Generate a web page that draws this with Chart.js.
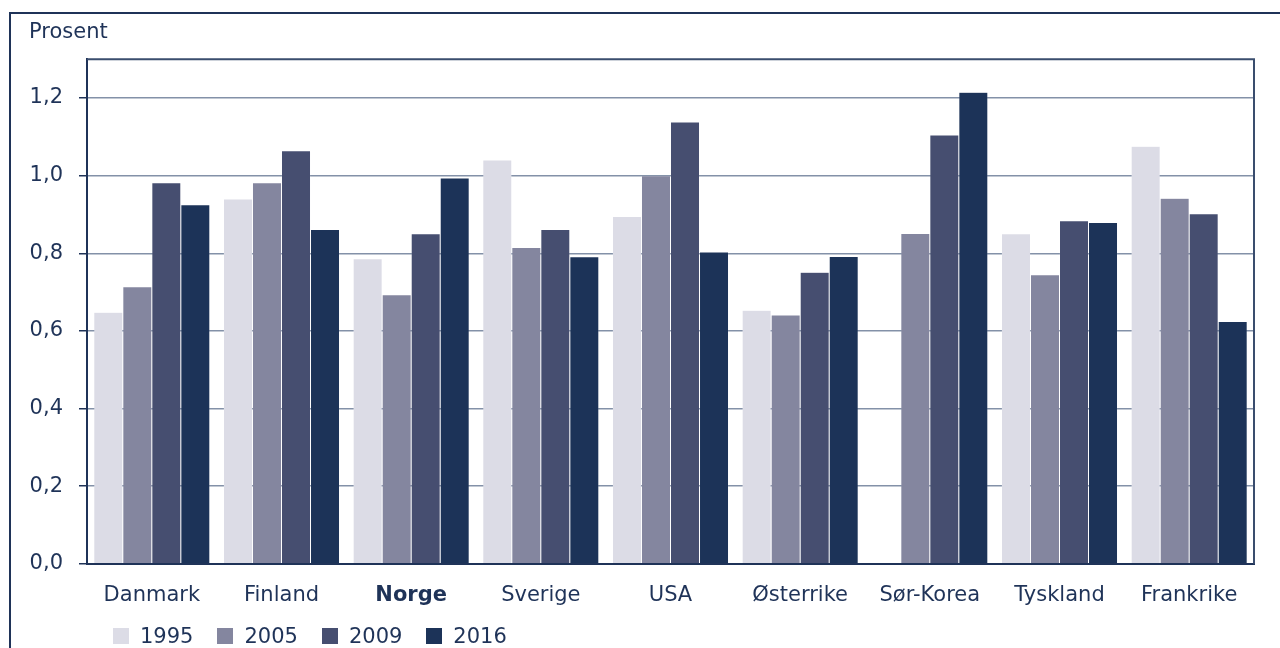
<!DOCTYPE html>
<html>
<head>
<meta charset="utf-8">
<script src="https://cdn.jsdelivr.net/npm/chart.js@4/dist/chart.umd.min.js"></script>
<style>
  html, body { margin: 0; padding: 0; background: #fff; }
  #wrap { position: relative; width: 1280px; height: 648px; overflow: hidden; }
  #frame { position: absolute; left: 9px; top: 12px; right: -10px; bottom: -10px;
           border-left: 2px solid #1f3358; border-top: 2px solid #1f3358; }
  canvas { position: absolute; left: 0; top: 0; }
  #legend { position: absolute; left: 113px; top: 624px; display: flex;
            font-family: "DejaVu Sans", Verdana, sans-serif; font-size: 21px; color: #1f3358; }
  #legend .item { display: flex; align-items: center; margin-right: 24px; }
  #legend .box { width: 16px; height: 16px; margin-right: 11px; }
</style>
</head>
<body>
<div id="wrap">
  <div id="frame"></div>
  <canvas id="c" width="1280" height="648"></canvas>
  <div id="legend"></div>
</div>
<script>
const categories = ["Danmark", "Finland", "Norge", "Sverige", "USA", "Østerrike", "Sør-Korea", "Tyskland", "Frankrike"];
const years = ["1995", "2005", "2009", "2016"];
const v1995 = [0.648, 0.940, 0.786, 1.040, 0.895, 0.653, null, 0.850, 1.076];
const v2005 = [0.714, 0.982, 0.693, 0.815, 1.000, 0.641, 0.851, 0.745, 0.942];
const v2009 = [0.982, 1.064, 0.850, 0.861, 1.138, 0.751, 1.105, 0.884, 0.902];
const v2016 = [0.925, 0.861, 0.994, 0.791, 0.803, 0.792, 1.215, 0.879, 0.624];
const yTicks = [0, 0.2, 0.4, 0.6, 0.8, 1.0, 1.2];
const colors = ["#dcdce6", "#84869f", "#464e70", "#1c3358"];
const boldCategory = "Norge";
const navy = "#1f3358";
const font = "'DejaVu Sans', Verdana, sans-serif";

const series = [v1995, v2005, v2009, v2016];
const datasets = years.map((y, i) => ({
  label: y,
  data: series[i],
  backgroundColor: colors[i],
  borderColor: "rgba(255,255,255,0.3)",
  borderWidth: 0.5,
  borderSkipped: "bottom"
}));

const frameBorder = {
  id: "frameBorder",
  afterDatasetsDraw(chart) {
    const a = chart.chartArea, ctx = chart.ctx;
    ctx.save();
    ctx.strokeStyle = "#3a4d6e";
    ctx.lineWidth = 2;
    ctx.beginPath();
    ctx.moveTo(a.left, a.top);
    ctx.lineTo(a.right, a.top);
    ctx.lineTo(a.right, a.bottom);
    ctx.stroke();
    ctx.restore();
  }
};

const chart = new Chart(document.getElementById("c"), {
  type: "bar",
  data: { labels: categories, datasets },
  plugins: [frameBorder],
  options: {
    responsive: false,
    animation: false,
    devicePixelRatio: 1,
    layout: { padding: { left: 29, right: 26, top: 0, bottom: 21 } },
    plugins: {
      legend: { display: false },
      tooltip: { enabled: false },
      title: {
        display: true,
        text: "Prosent",
        align: "start",
        color: navy,
        font: { family: font, size: 21, weight: "normal" },
        padding: { top: 20, bottom: 14 }
      }
    },
    datasets: { bar: { categoryPercentage: 0.895, barPercentage: 1.0 } },
    scales: {
      x: {
        grid: { display: false, drawTicks: false },
        border: { color: navy, width: 2 },
        ticks: {
          color: navy,
          padding: 19,
          maxRotation: 0,
          autoSkip: false,
          font: (ctx) => ({ family: font, size: 21,
            weight: categories[ctx.index] === boldCategory ? "bold" : "normal" })
        }
      },
      y: {
        min: 0,
        max: 1.3,
        afterFit(scale) { scale.width = 58; },
        afterBuildTicks(scale) { scale.ticks = yTicks.map(v => ({ value: v })).concat([{ value: 1.3 }]); },
        grid: {
          color: (ctx) => ctx.tick && ctx.tick.value === 0 ? "rgba(0,0,0,0)" :
                         (ctx.tick && ctx.tick.value > 1.25 ? "rgba(0,0,0,0)" : "#8391a8"),
          lineWidth: 1.5,
          tickLength: 8,
          tickColor: (ctx) => ctx.tick && ctx.tick.value > 1.25 ? "rgba(0,0,0,0)" : navy,
          tickWidth: 1.5
        },
        border: { color: navy, width: 2 },
        ticks: {
          color: navy,
          padding: 16,
          font: { family: font, size: 21 },
          callback: (v) => v > 1.25 ? "" : v.toFixed(1).replace(".", ",")
        }
      }
    }
  }
});

const legendEl = document.getElementById("legend");
chart.data.datasets.forEach(ds => {
  const item = document.createElement("div");
  item.className = "item";
  const box = document.createElement("span");
  box.className = "box";
  box.style.background = ds.backgroundColor;
  const txt = document.createElement("span");
  txt.textContent = ds.label;
  item.appendChild(box);
  item.appendChild(txt);
  legendEl.appendChild(item);
});
</script>
</body>
</html>
